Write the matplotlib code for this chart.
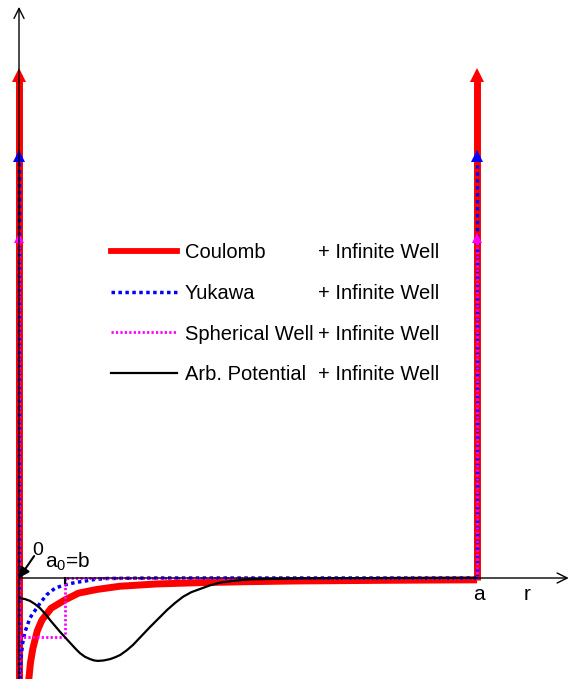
import matplotlib
matplotlib.use("Agg")
import matplotlib.pyplot as plt
from matplotlib.lines import Line2D

plt.rcParams['font.family'] = ['Liberation Sans', 'DejaVu Sans']

# r in units of a0 (= b), wall of the infinite well at r = a
a0 = 1.0
a = 10.0

# Coulomb potential
coulomb_r = [0.21, 0.25, 0.3, 0.4, 0.5, 0.7, 1.0, 1.3, 1.7, 2.2, 3.0, 4.0, 5.0, 6.0, 8.0, 10.0]
coulomb_v = [-2.25, -1.85, -1.55, -1.15, -0.92, -0.66, -0.48, -0.33, -0.25, -0.18, -0.13,
             -0.10, -0.08, -0.065, -0.05, -0.04]

# Yukawa potential
yukawa_r = [0.02, 0.04, 0.08, 0.13, 0.24, 0.37, 0.46, 0.60, 0.79, 1.0, 1.22, 1.44, 1.66, 1.94,
            3.0, 10.0]
yukawa_v = [-2.2, -1.79, -1.42, -1.18, -0.87, -0.68, -0.55, -0.37, -0.22, -0.15, -0.10, -0.066,
            -0.03, -0.01, 0.0, 0.0]

# spherical well of depth V0 and radius b
well_r = [0.0, 1.0, 1.0, 10.0]
well_v = [-1.29, -1.29, 0.0, 0.0]

# arbitrary potential
arb_r = [0.02, 0.13, 0.24, 0.35, 0.46, 0.57, 0.68, 0.79, 0.90, 1.01, 1.12, 1.23, 1.33, 1.44,
         1.55, 1.64, 1.72, 1.85, 1.99, 2.10, 2.21, 2.35, 2.49, 2.67, 2.86, 3.05, 3.23, 3.40,
         3.58, 3.76, 3.95, 4.17, 4.39, 4.70, 5.04, 5.5, 6.1, 7.0, 10.0]
arb_v = [-0.44, -0.46, -0.50, -0.57, -0.66, -0.78, -0.92, -1.05, -1.18, -1.30, -1.42, -1.54,
         -1.64, -1.72, -1.77, -1.80, -1.81, -1.80, -1.77, -1.73, -1.68, -1.58, -1.46, -1.27,
         -1.07, -0.88, -0.70, -0.55, -0.41, -0.31, -0.24, -0.16, -0.10, -0.06, -0.03, -0.02,
         -0.01, -0.005, 0.0]

# height at which each "infinite" wall is cut off
wall_top = {'Coulomb': 10.99, 'Yukawa': 9.21, 'Spherical Well': 7.42}

labels = ['Coulomb', 'Yukawa', 'Spherical Well', 'Arb. Potential']

fig = plt.figure(figsize=(5.76, 6.79), dpi=100)
ax = fig.add_axes([0, 0, 1, 1])
ax.set_xlim(-0.415, 12.16)
ax.set_ylim(-2.205, 12.62)
ax.axis('off')

bottom = -2.4

# Coulomb + walls
red = '#ff0000'
ax.plot([0, 0], [bottom, wall_top['Coulomb']], color=red, lw=5, solid_capstyle='butt', zorder=2)
ax.plot(coulomb_r, coulomb_v, color=red, lw=5, solid_capstyle='butt', zorder=2)
ax.plot([a, a], [coulomb_v[-1], wall_top['Coulomb']], color=red, lw=5, solid_capstyle='butt', zorder=2)
ax.plot([0, a], [wall_top['Coulomb']] * 2, ls='none', marker='^', ms=10.5, color=red, mew=0, zorder=2)

# Yukawa + walls
blue = '#0000ff'
ax.plot([0, 0], [bottom, wall_top['Yukawa']], color=blue, lw=2.5, ls=(0, (1, 1)), zorder=3)
ax.plot(yukawa_r, yukawa_v, color=blue, lw=2.5, ls=(0, (1, 1)), zorder=3)
ax.plot([a, a], [0, wall_top['Yukawa']], color=blue, lw=2.5, ls=(0, (1, 1)), zorder=3)
ax.plot([0, a], [wall_top['Yukawa']] * 2, ls='none', marker='^', ms=9, color=blue, mew=0, zorder=3)

# spherical well + walls
mag = '#ff00ff'
ax.plot([0, 0], [bottom, wall_top['Spherical Well']], color=mag, lw=2, ls=(0, (0.8, 0.8)), zorder=4)
ax.plot(well_r, well_v, color=mag, lw=2, ls=(0, (0.8, 0.8)), zorder=4)
ax.plot([a, a], [0, wall_top['Spherical Well']], color=mag, lw=2, ls=(0, (0.8, 0.8)), zorder=4)
ax.plot([0, a], [wall_top['Spherical Well']] * 2, ls='none', marker='^', ms=7.5, color=mag, mew=0,
        zorder=4)

# arbitrary potential
ax.plot(arb_r, arb_v, color='black', lw=1.6, zorder=5)

# axes with arrows
ax.annotate('', xy=(0, 12.47), xytext=(0, bottom),
            arrowprops=dict(arrowstyle='->', color='black', lw=1, mutation_scale=18,
                            shrinkA=0, shrinkB=0), zorder=6)
ax.annotate('', xy=(12.0, 0), xytext=(0, 0),
            arrowprops=dict(arrowstyle='->', color='black', lw=1, mutation_scale=18,
                            shrinkA=0, shrinkB=0), zorder=6)
ax.plot([a0, a0], [0, -0.11], color='black', lw=1.5, zorder=6)

# origin label with its pointer
ax.annotate('', xy=(0, 0), xytext=(0.33, 0.48),
            arrowprops=dict(arrowstyle='-|>', color='black', lw=1.5, mutation_scale=15,
                            shrinkA=0, shrinkB=0), zorder=7)
ax.text(0.40, 0.61, '0', ha='center', va='center', fontsize=14)
ax.text(1.07, 0.24, r'a$_\mathregular{0}$=b', ha='center', va='baseline', fontsize=15)
ax.text(a + 0.04, -0.48, 'a', ha='center', va='baseline', fontsize=15)
ax.text(11.1, -0.48, 'r', ha='center', va='baseline', fontsize=15)

# legend: curve names, and "+ Infinite Well" as a second column
handles = [Line2D([], [], color=red, lw=4.2),
           Line2D([], [], color=blue, lw=2.5, ls=(0, (1, 1))),
           Line2D([], [], color=mag, lw=2, ls=(0, (0.8, 0.8))),
           Line2D([], [], color='black', lw=1.6)]
leg1 = ax.legend(handles, labels, loc='upper left', bbox_to_anchor=(111 / 576, 1 - 243 / 679),
                 frameon=False, fontsize=14.5, handlelength=3.3, handletextpad=0.35,
                 labelspacing=1.08, borderpad=0, borderaxespad=0)
ax.add_artist(leg1)
blank = [Line2D([], [], color='none') for _ in labels]
ax.legend(blank, ['+ Infinite Well'] * 4, loc='upper left',
          bbox_to_anchor=(318 / 576, 1 - 243 / 679), frameon=False, fontsize=14.5,
          handlelength=0, handletextpad=0, labelspacing=1.08, borderpad=0, borderaxespad=0)

fig.savefig('out.png', dpi=100)
